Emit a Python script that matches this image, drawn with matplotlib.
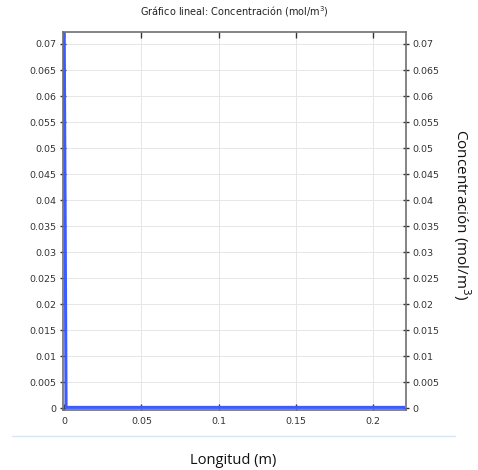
import matplotlib
matplotlib.use("Agg")
import matplotlib.pyplot as plt
from matplotlib.lines import Line2D
from matplotlib.ticker import FuncFormatter

# data
longitud = [0.0, 0.0012, 0.22]
concentracion = [0.0722, 0.0002, 0.0002]
xticks = [0, 0.05, 0.1, 0.15, 0.2]
yticks = [0, 0.005, 0.01, 0.015, 0.02, 0.025, 0.03, 0.035, 0.04, 0.045,
          0.05, 0.055, 0.06, 0.065, 0.07]
title = "Gráfico lineal: Concentración (mol/m$^3$)"
xlabel = "Longitud (m)"
ylabel = "Concentración (mol/m$^3$)"

W, H = 478, 470
fig = plt.figure(figsize=(W / 100, H / 100), dpi=100)
ax = fig.add_axes([63 / W, 1 - 410 / H, (406 - 63) / W, (410 - 32) / H])

ax.plot(longitud, concentracion, color="#3d5cff", lw=2.2, solid_joinstyle="miter")
ax.set_xlim(-0.0008, 0.2215)
ax.set_ylim(-0.0003, 0.0723)
ax.set_xticks(xticks)
ax.set_yticks(yticks)
fmt = FuncFormatter(lambda v, p: "%g" % v)
ax.xaxis.set_major_formatter(fmt)
ax.yaxis.set_major_formatter(fmt)
ax.grid(True, color="#e6e6e6", lw=0.7)
ax.set_axisbelow(True)
for s in ax.spines.values():
    s.set_color("#707070")
    s.set_linewidth(1.2)
ax.tick_params(axis="x", direction="in", top=True, length=4, labelsize=6.8,
               colors="#333333", pad=5, width=1)
ax.tick_params(axis="y", direction="inout", right=True, labelright=True,
               length=5, labelsize=6.8, colors="#333333", pad=2, width=1)

fig.text(0.5 * (63 + 406) / W, 1 - 12 / H, title, ha="center", va="center",
         fontsize=7, color="#222222")
fig.text(233 / W, 1 - 460 / H, xlabel, ha="center", va="center",
         fontsize=10.5, family="Open Sans", color="#111111")
fig.text(462 / W, 1 - 215 / H, ylabel, ha="center", va="center",
         fontsize=11, family="Open Sans", rotation=-90, color="#111111")
fig.add_artist(Line2D([12 / W, 455 / W], [1 - 436 / H, 1 - 436 / H],
                      color="#d6e6f5", lw=1))

fig.savefig("out.png", dpi=100)
